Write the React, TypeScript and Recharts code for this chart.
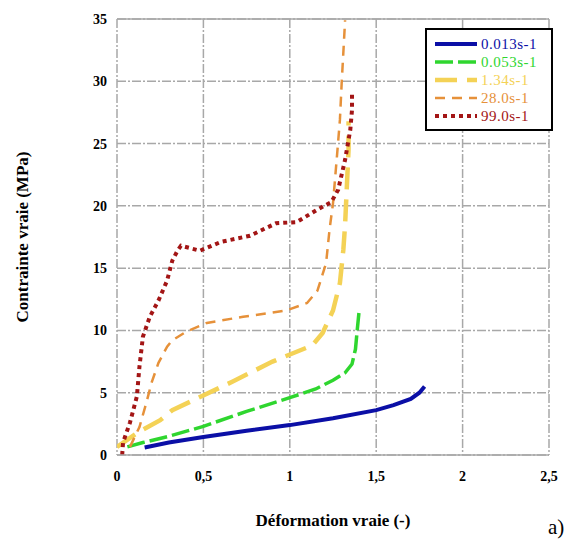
import { LineChart, Line, XAxis, YAxis, CartesianGrid, ReferenceLine, Label } from 'recharts';

const xTicks = [0, 0.5, 1, 1.5, 2, 2.5];
const yTicks = [0, 5, 10, 15, 20, 25, 30, 35];

const rate0013 = [
  { x: 0.16, y: 0.6 }, { x: 0.3, y: 1.0 }, { x: 0.5, y: 1.45 }, { x: 0.75, y: 1.95 },
  { x: 1.0, y: 2.4 }, { x: 1.25, y: 2.95 }, { x: 1.5, y: 3.6 }, { x: 1.6, y: 4.0 },
  { x: 1.7, y: 4.5 }, { x: 1.75, y: 5.0 }, { x: 1.78, y: 5.5 },
];
const rate0053 = [
  { x: 0.06, y: 0.65 }, { x: 0.15, y: 1.0 }, { x: 0.3, y: 1.5 }, { x: 0.5, y: 2.3 },
  { x: 0.75, y: 3.5 }, { x: 1.0, y: 4.6 }, { x: 1.15, y: 5.3 }, { x: 1.25, y: 6.0 },
  { x: 1.32, y: 6.6 }, { x: 1.36, y: 7.3 }, { x: 1.38, y: 8.5 }, { x: 1.39, y: 10.0 },
  { x: 1.4, y: 11.4 },
];
const rate134 = [
  { x: 0.0, y: 0.65 }, { x: 0.12, y: 1.8 }, { x: 0.25, y: 2.8 }, { x: 0.32, y: 3.6 },
  { x: 0.48, y: 4.65 }, { x: 0.67, y: 5.9 }, { x: 0.9, y: 7.5 }, { x: 1.13, y: 8.8 },
  { x: 1.19, y: 9.8 }, { x: 1.25, y: 11.6 }, { x: 1.29, y: 13.8 }, { x: 1.31, y: 16.5 },
  { x: 1.32, y: 18.5 }, { x: 1.33, y: 21.5 }, { x: 1.34, y: 24.5 }, { x: 1.34, y: 26.8 },
];
const rate280 = [
  { x: 0.075, y: 0.65 }, { x: 0.13, y: 2.25 }, { x: 0.17, y: 4.2 }, { x: 0.2, y: 5.8 },
  { x: 0.24, y: 7.4 }, { x: 0.29, y: 8.7 }, { x: 0.32, y: 9.2 }, { x: 0.4, y: 9.9 },
  { x: 0.52, y: 10.6 }, { x: 0.73, y: 11.1 }, { x: 0.98, y: 11.6 }, { x: 1.1, y: 12.2 },
  { x: 1.16, y: 13.2 }, { x: 1.21, y: 15.4 }, { x: 1.23, y: 18.1 }, { x: 1.25, y: 20.2 },
  { x: 1.27, y: 23.5 }, { x: 1.29, y: 26.9 }, { x: 1.3, y: 29.8 }, { x: 1.32, y: 34.9 },
];
const rate990 = [
  { x: 0.03, y: 0.0 }, { x: 0.035, y: 1.0 }, { x: 0.075, y: 2.6 }, { x: 0.115, y: 4.7 },
  { x: 0.13, y: 7.1 }, { x: 0.15, y: 9.5 }, { x: 0.19, y: 11.1 }, { x: 0.24, y: 12.4 },
  { x: 0.29, y: 14.0 }, { x: 0.32, y: 15.6 }, { x: 0.35, y: 16.4 }, { x: 0.37, y: 16.8 },
  { x: 0.48, y: 16.4 }, { x: 0.6, y: 17.1 }, { x: 0.77, y: 17.6 }, { x: 0.92, y: 18.6 },
  { x: 1.04, y: 18.7 }, { x: 1.16, y: 19.7 }, { x: 1.24, y: 20.3 }, { x: 1.28, y: 21.3 },
  { x: 1.32, y: 23.7 }, { x: 1.35, y: 26.1 }, { x: 1.36, y: 27.7 }, { x: 1.36, y: 29.2 },
];

const series = [
  { name: '0.013s-1', data: rate0013, color: '#0b0fa6', width: 4, dash: undefined },
  { name: '0.053s-1', data: rate0053, color: '#2fd62f', width: 3.5, dash: '18 5' },
  { name: '1.34s-1', data: rate134, color: '#f4d256', width: 4.5, dash: '22 10' },
  { name: '28.0s-1', data: rate280, color: '#e6913a', width: 2.5, dash: '10 7' },
  { name: '99.0s-1', data: rate990, color: '#a31515', width: 4, dash: '4 4' },
];

const font = '"Liberation Serif", "DejaVu Serif", serif';
const fmt = (v: number) => String(v).replace('.', ',');

function LegendBox() {
  return (
    <div
      style={{
        position: 'absolute', left: 425, top: 28, width: 124, height: 99,
        border: '2px solid #000', background: '#fff', fontFamily: font, fontSize: 15,
      }}
    >
      {series.map((s, i) => (
        <div key={s.name} style={{ position: 'absolute', left: 6, top: 5 + i * 18, height: 18, display: 'flex', alignItems: 'center' }}>
          <svg width={44} height={10}>
            <line x1={2} y1={5} x2={44} y2={5} stroke={s.color} strokeWidth={s.width} strokeDasharray={s.dash} />
          </svg>
          <span style={{ color: s.color, marginLeft: 4, whiteSpace: 'nowrap', letterSpacing: 0.5 }}>{s.name}</span>
        </div>
      ))}
    </div>
  );
}

export default function App() {
  return (
    <div style={{ position: 'absolute', left: 0, top: 0, width: 588, height: 544, background: '#fff' }}>
      <LineChart width={588} height={544} margin={{ top: 19, right: 39, left: 0, bottom: 0 }}>
        <CartesianGrid stroke="#a8a8a8" strokeWidth={1.5} strokeDasharray="9 2 2 2" />
        <XAxis
          type="number"
          dataKey="x"
          domain={[0, 2.5]}
          ticks={xTicks}
          tickFormatter={fmt}
          height={89}
          axisLine={{ stroke: '#a8a8a8', strokeWidth: 1.5 }}
          tickLine={false}
          tickMargin={10}
          tick={{ fill: '#000', fontSize: 14, fontWeight: 'bold', fontFamily: font }}
          allowDataOverflow
        >
          <Label value="Déformation vraie (-)" position="insideBottom" offset={18}
            style={{ fill: '#000', fontSize: 17, fontWeight: 'bold', fontFamily: font }} />
        </XAxis>
        <YAxis
          type="number"
          domain={[0, 35]}
          ticks={yTicks}
          width={117}
          axisLine={false}
          tickLine={false}
          tickMargin={4}
          tick={{ fill: '#000', fontSize: 14, fontWeight: 'bold', fontFamily: font }}
          allowDataOverflow
        >
          <Label value="Contrainte vraie (MPa)" angle={-90} position="insideLeft" offset={22}
            style={{ fill: '#000', fontSize: 17, fontWeight: 'bold', fontFamily: font, textAnchor: 'middle' }} />
        </YAxis>
        <ReferenceLine y={35} stroke="#a8a8a8" strokeWidth={1.5} />
        {series.map((s) => (
          <Line
            key={s.name}
            data={s.data}
            dataKey="y"
            type="linear"
            stroke={s.color}
            strokeWidth={s.width}
            strokeDasharray={s.dash}
            dot={false}
            isAnimationActive={false}
          />
        ))}
      </LineChart>
      <LegendBox />
      <div style={{ position: 'absolute', left: 548, top: 515, fontFamily: font, fontSize: 21 }}>a)</div>
    </div>
  );
}
